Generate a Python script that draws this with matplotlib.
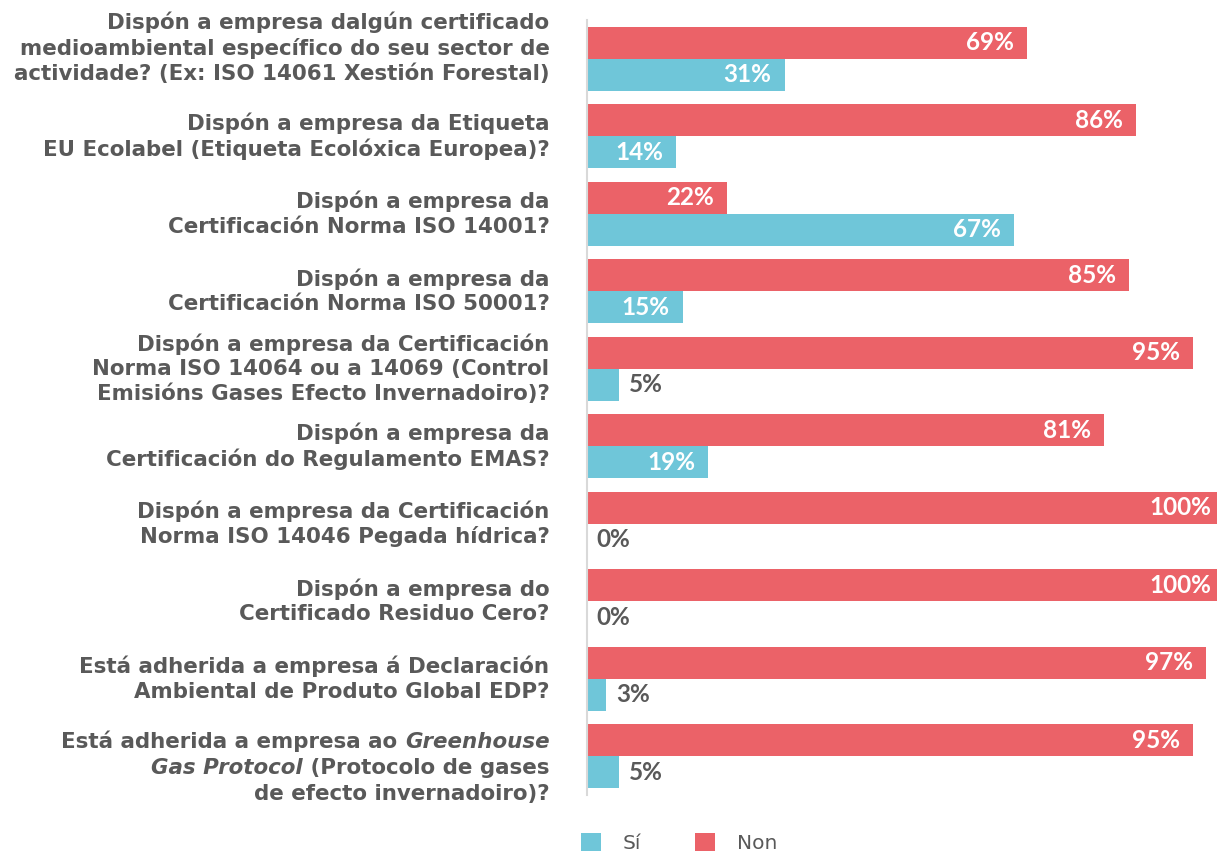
import matplotlib.pyplot as plt
import numpy as np

# data
questions = [
    "Dispón a empresa dalgún certificado\nmedioambiental específico do seu sector de\nactividade? (Ex: ISO 14061 Xestión Forestal)",
    "Dispón a empresa da Etiqueta\nEU Ecolabel (Etiqueta Ecolóxica Europea)?",
    "Dispón a empresa da\nCertificación Norma ISO 14001?",
    "Dispón a empresa da\nCertificación Norma ISO 50001?",
    "Dispón a empresa da Certificación\nNorma ISO 14064 ou a 14069 (Control\nEmisións Gases Efecto Invernadoiro)?",
    "Dispón a empresa da\nCertificación do Regulamento EMAS?",
    "Dispón a empresa da Certificación\nNorma ISO 14046 Pegada hídrica?",
    "Dispón a empresa do\nCertificado Residuo Cero?",
    "Está adherida a empresa á Declaración\nAmbiental de Produto Global EDP?",
    None,  # last one has italic parts, drawn piece by piece below
]
last_q = [("Está adherida a empresa ao ", "Greenhouse"),
          ("Gas Protocol", " (Protocolo de gases"),
          ("", "de efecto invernadoiro)?")]
si = [31, 14, 67, 15, 5, 19, 0, 0, 3, 5]
non = [69, 86, 22, 85, 95, 81, 100, 100, 97, 95]

col_si = '#6FC6D9'
col_non = '#EB6268'
gray = '#595959'
qfont = dict(family='DejaVu Sans', fontsize=15.4, fontweight='bold', color=gray)

fig = plt.figure(figsize=(12.17, 8.59), dpi=100)
# axes runs a little past the right edge, like the original (100% bars are cut)
ax = fig.add_axes([0.4823, 0.0745, 0.5242, 0.902])

y = np.arange(len(questions))
h = 0.413
ax.barh(y - h / 2, non, height=h, color=col_non, label='Non')
ax.barh(y + h / 2, si, height=h, color=col_si, label='Sí')

ax.set_xlim(0, 100)
ax.set_ylim(len(questions) - 0.5, -0.5)
ax.set_yticks([])
ax.set_xticks([])
for s in ['top', 'right', 'bottom']:
    ax.spines[s].set_visible(False)
ax.spines['left'].set_color('#D9D9D9')
ax.spines['left'].set_linewidth(1.5)

# question labels (small vertical nudges like the original)
nudge = [8, 0, 0, 0, 0, 0, 0, 0, 0, -8.5]
for i, q in enumerate(questions):
    if q is None:
        continue
    ax.annotate(q, (0, y[i]), xycoords=('axes fraction', 'data'),
                xytext=(-27, nudge[i]), textcoords='offset points',
                ha='right', va='center', linespacing=1.27, **qfont)

# last label, line by line
i = len(questions) - 1
for k, (left, right) in enumerate(last_q):
    rstyle = 'italic' if k == 0 else 'normal'
    lstyle = 'italic' if k == 1 else 'normal'
    t = ax.annotate(right, (0, y[i]), xycoords=('axes fraction', 'data'),
                    xytext=(-27, nudge[i] - (k - 1) * 18.7), textcoords='offset points',
                    ha='right', va='center', fontstyle=rstyle, **qfont)
    if left:
        ax.annotate(left, (0, 0), xycoords=t, ha='right', va='bottom',
                    fontstyle=lstyle, **qfont)

# value labels
def put_label(val, ypos):
    if val >= 10:
        ax.annotate(f"{val}%", (val, ypos), xytext=(-9.5, 0), textcoords='offset points',
                    ha='right', va='center', color='white', fontsize=17.5,
                    fontweight='bold', family='Lato')
    else:
        ax.annotate(f"{val}%", (val, ypos), xytext=(7, 0), textcoords='offset points',
                    ha='left', va='center', color=gray, fontsize=17.5,
                    fontweight='bold', family='Lato')

for i in range(len(questions)):
    put_label(non[i], y[i] - h / 2)
    put_label(si[i], y[i] + h / 2)

handles, labels = ax.get_legend_handles_labels()
fig.legend(handles[::-1], labels[::-1], loc='lower center', ncol=2,
           bbox_to_anchor=(0.558, -0.014), frameon=False,
           prop={'family': 'DejaVu Sans', 'size': 14.5},
           handlelength=1.0, handleheight=1.0, handletextpad=1.1,
           columnspacing=2.65, labelcolor=gray)

plt.savefig('out.png', dpi=100)
